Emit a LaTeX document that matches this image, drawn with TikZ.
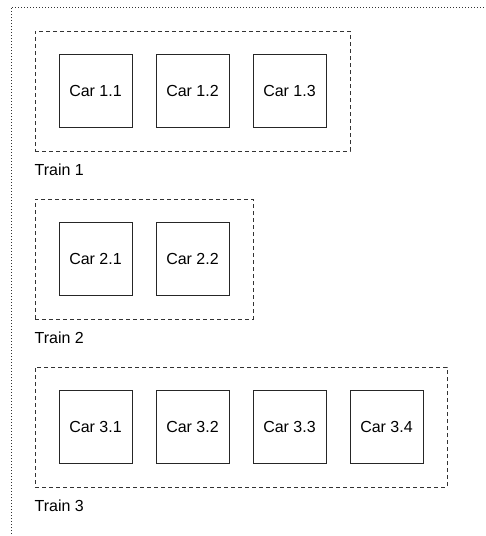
\documentclass[tikz,border=0pt]{standalone}
\usepackage{fontspec}
\setmainfont{Liberation Sans}
\begin{document}
\begin{tikzpicture}[x=1pt,y=-1pt,
  trainbox/.style={draw=black!80, line width=1pt, dash pattern=on 4pt off 3pt, inner sep=0pt, outer sep=0pt, minimum height=120pt},
  carbox/.style={draw=black!85, line width=1pt, inner sep=0pt, outer sep=0pt, minimum width=73pt, minimum height=73pt, font=\fontsize{16}{19}\selectfont},
  trainlabel/.style={anchor=west, inner sep=0pt, font=\fontsize{16}{19}\selectfont},
  frame/.style={draw=black!80, line width=1pt, dash pattern=on 1pt off 2pt}]
\useasboundingbox (0,0) rectangle (486,536);
\coordinate (fa) at (11,540);
\coordinate (fb) at (11,7);
\coordinate (fc) at (490,7);
\draw[frame] (fa) -- (fb) -- (fc);
% Train 1
\node[trainbox, minimum width=315pt] (t1) at (192.5,91) {};
\node[carbox] (c11) at (95.5,91) {Car 1.1};
\node[carbox] (c12) at (192.5,91) {Car 1.2};
\node[carbox] (c13) at (289.5,91) {Car 1.3};
\node[trainlabel] (l1) at (34.5,169.5) {Train 1};
% Train 2
\node[trainbox, minimum width=218pt] (t2) at (144,259) {};
\node[carbox] (c21) at (95.5,259) {Car 2.1};
\node[carbox] (c22) at (192.5,259) {Car 2.2};
\node[trainlabel] (l2) at (34.5,337.5) {Train 2};
% Train 3
\node[trainbox, minimum width=412pt] (t3) at (241,427) {};
\node[carbox] (c31) at (95.5,427) {Car 3.1};
\node[carbox] (c32) at (192.5,427) {Car 3.2};
\node[carbox] (c33) at (289.5,427) {Car 3.3};
\node[carbox] (c34) at (386.5,427) {Car 3.4};
\node[trainlabel] (l3) at (34.5,505.5) {Train 3};
\end{tikzpicture}
\end{document}
